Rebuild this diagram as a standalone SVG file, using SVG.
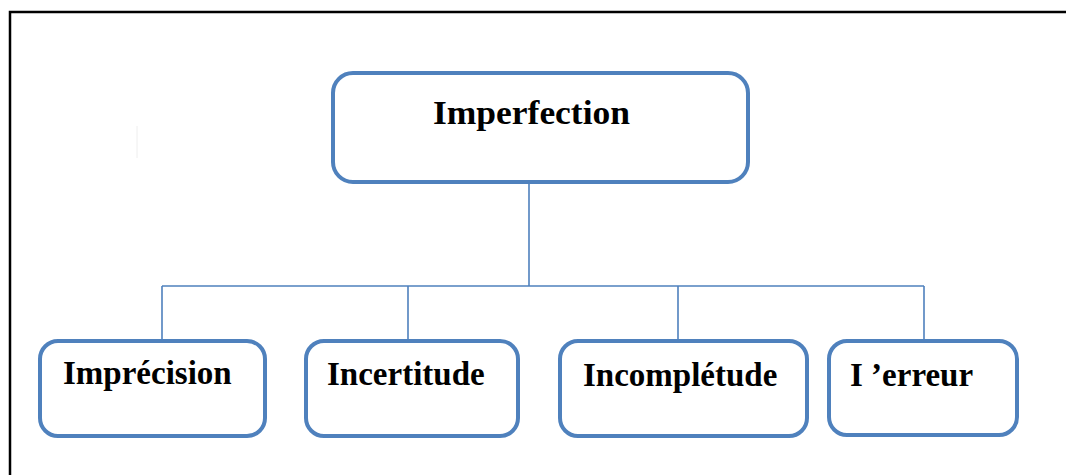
<svg xmlns="http://www.w3.org/2000/svg" width="1066" height="475" viewBox="0 0 1066 475">
<style>
.box{fill:#ffffff;stroke:#4F81BD;stroke-width:4}
.lbl{font-family:"Liberation Serif","Times New Roman",serif;font-weight:bold;font-size:33px;fill:#000}
.conn{fill:none;stroke:#4F81BD;stroke-width:1.6}
</style>
<rect x="0" y="0" width="1066" height="475" fill="#ffffff"/>
<path d="M10 475 V12 H1066" fill="none" stroke="#000" stroke-width="2.5"/>
<line x1="137" y1="126" x2="137" y2="158" stroke="#eeeeee" stroke-width="1"/>
<g id="connectors">
<path class="conn" d="M529 183 V286 M162 286 H924 M162 286 V340 M408 286 V340 M678 286 V340 M924 286 V340"/>
</g>
<g id="imperfection">
<rect class="box" x="333" y="73" width="415" height="109" rx="20"/>
<text class="lbl" x="433" y="124" font-size="34" textLength="197" lengthAdjust="spacingAndGlyphs">Imperfection</text>
</g>
<g id="imprecision">
<rect class="box" x="40" y="341" width="225" height="95" rx="18"/>
<text class="lbl" x="63" y="384">Imprécision</text>
</g>
<g id="incertitude">
<rect class="box" x="306" y="341" width="212" height="95" rx="18"/>
<text class="lbl" x="327" y="385">Incertitude</text>
</g>
<g id="incompletude">
<rect class="box" x="560" y="341" width="247" height="95" rx="18"/>
<text class="lbl" x="583" y="386">Incomplétude</text>
</g>
<g id="erreur">
<rect class="box" x="829" y="341" width="188" height="94" rx="18"/>
<text class="lbl" x="850" y="386">I ’erreur</text>
</g>
</svg>
